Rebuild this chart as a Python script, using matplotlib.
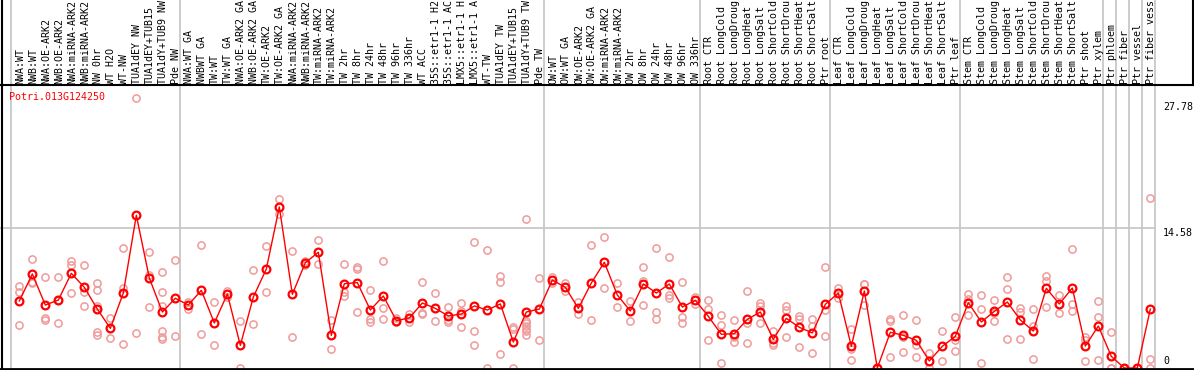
import matplotlib
matplotlib.use("Agg")
import matplotlib.pyplot as plt
from matplotlib.transforms import blended_transform_factory
from matplotlib.lines import Line2D

labels = [
    "NWA:WT", "NWB:WT", "NWA:OE-ARK2", "NWB:OE-ARK2", "NWA:miRNA-ARK2", "NWB:miRNA-ARK2",
    "NW 0hr", "WT H2O", "WT-NW", "TUA1dEY NW", "TUA1dEY+TUB15", "TUA1dY+TUB9 NW", "Pde NW",
    "NWA:WT GA", "NWBWT GA", "TW:WT", "TW:WT GA", "NWA:OE-ARK2 GA", "NWB:OE-ARK2 GA",
    "TW:OE-ARK2", "TW:OE-ARK2 GA", "NWA:miRNA-ARK2", "NWB:miRNA-ARK2", "TW:miRNA-ARK2",
    "TW:miRNA-ARK2", "TW 2hr", "TW 8hr", "TW 24hr", "TW 48hr", "TW 96hr", "TW 336hr",
    "WT ACC", "35S::etr1-1 H2", "35S::etr1-1 AC", "LMX5::etr1-1 H", "LMX5::etr1-1 A",
    "WT-TW", "TUA1dEY TW", "TUA1dEY+TUB15", "TUA1dY+TUB9 TW", "Pde TW",
    "OW:WT", "OW:WT GA", "OW:OE-ARK2", "OW:OE-ARK2 GA", "OW:miRNA-ARK2", "OW:miRNA-ARK2",
    "OW 2hr", "OW 8hr", "OW 24hr", "OW 48hr", "OW 96hr", "OW 336hr",
    "Root CTR", "Root LongCold", "Root LongDroug", "Root LongHeat", "Root LongSalt",
    "Root ShortCold", "Root ShortDrou", "Root ShortHeat", "Root ShortSalt", "Ptr root",
    "Leaf CTR", "Leaf LongCold", "Leaf LongDroug", "Leaf LongHeat", "Leaf LongSalt",
    "Leaf ShortCold", "Leaf ShortDrou", "Leaf ShortHeat", "Leaf ShortSalt", "Ptr leaf",
    "Stem CTR", "Stem LongCold", "Stem LongDroug", "Stem LongHeat", "Stem LongSalt",
    "Stem ShortCold", "Stem ShortDrou", "Stem ShortHeat", "Stem ShortSalt", "Ptr shoot",
    "Ptr xylem", "Ptr phloem", "Ptr fiber", "Ptr vessel", "Ptr fiber vess",
]

means = [6.98, 9.79, 6.56, 7.08, 9.86, 8.40, 6.14, 4.13, 7.81, 15.9,
         9.37, 5.83, 7.26, 6.56, 8.09, 4.69, 7.71, 2.36, 7.39, 10.31,
         16.77, 7.67, 10.97, 12.05, 3.40, 8.78, 8.89, 6.04, 7.50, 4.93,
         5.21, 6.77, 6.21, 5.42, 5.62, 6.46, 6.04, 6.67, 2.71, 5.83,
         6.14, 9.16, 8.40, 6.21, 8.85, 11.01, 7.60, 5.94, 8.75, 7.81,
         8.75, 6.35, 7.05, 5.38, 3.51, 3.58, 5.07, 5.83, 2.99, 5.17,
         4.24, 3.65, 6.63, 7.81, 2.26, 8.02, 0.0, 3.72, 3.40, 2.88,
         0.73, 2.26, 3.30, 6.80, 4.79, 5.90, 6.87, 5.00, 3.85, 8.30,
         6.67, 8.33, 2.29, 4.37, 1.21, 0.0, 0.0, 6.14]

replicates = [
    [8.54, 7.92, 4.44], [11.35, 8.99, 8.82], [9.48, 5.24, 5.00], [9.48, 7.07, 4.69],
    [11.14, 10.76, 7.81], [10.73, 7.95, 6.42], [8.89, 8.12, 6.46, 3.78, 3.44], [5.24, 3.09],
    [12.46, 8.30, 2.47], [28.09, 3.61], [12.05, 9.69, 6.32], [10.0, 7.92, 6.46, 3.85, 3.26, 2.99],
    [11.21, 3.30], [6.87, 6.11], [12.81, 3.51], [6.87, 2.36], [7.98, 7.43], [4.86, 0.0],
    [10.17, 4.55], [12.71, 7.92], [17.6, 16.0], [12.15, 3.23], [11.18, 10.73], [13.33, 10.83],
    [5.00, 1.98], [10.83, 7.92, 7.50], [10.56, 10.28, 5.83], [8.12, 5.07, 4.76],
    [11.14, 6.21, 5.07], [5.21, 4.76], [5.59, 4.76], [8.92, 5.76, 5.59], [7.81, 4.89],
    [6.35, 5.00, 4.82], [6.80, 5.94, 4.24], [13.09, 3.85, 2.36], [12.26, 0.0],
    [9.61, 8.92, 1.43], [4.30, 4.03, 0.0], [15.49, 4.86, 4.65, 4.37, 4.10, 3.90, 3.44],
    [9.34, 2.92], [9.51, 8.89], [8.89, 8.02], [6.87, 5.62], [12.81, 5.00], [13.64, 8.30],
    [8.82, 6.32], [6.94, 4.86], [10.48, 9.06, 6.53], [12.46, 5.80, 5.07], [11.56, 7.60, 7.26],
    [8.92, 5.35, 4.65], [7.43, 6.63], [7.08, 6.18, 2.92], [5.49, 4.44, 0.49], [5.00, 3.26, 2.68],
    [8.02, 4.72, 2.57], [6.74, 6.46, 4.65], [3.88, 2.57, 2.36], [6.46, 6.04, 3.19],
    [5.45, 5.07, 2.19], [5.14, 4.41, 1.53], [10.52, 6.04, 3.30], [8.33, 7.32],
    [4.06, 1.98, 0.80], [8.75, 8.70, 6.56], [0.0, 0.0], [5.07, 4.89, 1.15],
    [5.52, 3.19, 1.67], [5.00, 2.36, 1.15], [1.53, 0.0], [3.85, 0.73], [5.28, 2.92, 1.77],
    [7.71, 7.15, 5.52], [7.60, 6.14, 0.49], [7.08, 5.76, 4.86], [9.48, 8.19, 3.05],
    [6.21, 5.87, 3.05], [6.14, 4.37, 0.94], [9.58, 9.09, 6.32], [7.57, 5.69],
    [12.36, 6.67, 5.90], [3.19, 2.92, 0.73], [6.98, 5.28, 0.80], [3.80, 0.0, 0.0],
    [0.0, 0.0], [0.0, 0.0], [17.67, 0.97, 0.0],
]

group_bounds = [-0.64, 12.36, 40.36, 52.36, 62.36, 72.36, 83.36, 84.36, 85.36, 86.36, 87.36]
ytick_vals = [0, 14.58, 27.78]
ytick_text = ["0", "14.58", "27.78"]
gene = "Potri.013G124250"

W, H = 1194, 370
fig = plt.figure(figsize=(W / 100, H / 100), dpi=100)
ax_left, ax_right, ax_top, ax_bot = 0, 1155, 85, 369
ax = fig.add_axes([ax_left / W, 1 - ax_bot / H, (ax_right - ax_left) / W, (ax_bot - ax_top) / H])
ax.set_xlim(-19.33 / 13, (1155 - 19.33) / 13)
ax.set_ylim(-(369 - 368) / 9.602, (368 - 85) / 9.602)
for s in ax.spines.values():
    s.set_visible(False)
ax.set_xticks([])
ax.set_yticks([])

mono = "DejaVu Sans Mono"
fs = 7.2
grid_c = "#c4c4c4"

# horizontal grid line
ax.axhline(14.58, color=grid_c, lw=1.2, zorder=1)
# vertical group lines spanning full figure height
ax_h = ax_bot - ax_top
for b in group_bounds:
    ax.axvline(b, ymin=-1 / ax_h, ymax=(ax_bot) / ax_h, color=grid_c, lw=1.2,
               clip_on=False, zorder=1)

# replicates
for i, reps in enumerate(replicates):
    ax.plot([i] * len(reps), reps, linestyle="none", marker="o", markersize=5.2,
            markerfacecolor="none", markeredgecolor="#f09a9a", markeredgewidth=1.1,
            clip_on=True, zorder=2)

# mean line
xs = list(range(len(means)))
ax.plot(xs, means, color="#ff0000", lw=1.0, marker="o", markersize=5.6,
        markerfacecolor="none", markeredgecolor="#ff0000", markeredgewidth=1.6, zorder=3)

# labels on top
tr = blended_transform_factory(ax.transData, ax.transAxes)
for i, lab in enumerate(labels):
    ax.text(i + 0.05, (ax_bot - 83.5) / ax_h, lab, transform=tr, rotation=90,
            ha="center", va="bottom", fontsize=fs, family=mono, color="black",
            clip_on=False)

# gene title
ax.text(9 / (ax_right - ax_left), (ax_bot - 97) / ax_h, gene, transform=ax.transAxes,
        ha="left", va="center", fontsize=fs, family=mono, color="#ff0000")

# right-side value labels
tr2 = blended_transform_factory(fig.transFigure, ax.transData)
for v, t in zip(ytick_vals, ytick_text):
    if v == 0:
        ax.text(1163 / W, v + 0.2, t, transform=tr2, ha="left", va="bottom",
                fontsize=fs, family=mono, clip_on=False)
    else:
        ax.text(1163 / W, v - 0.05, t, transform=tr2, ha="left", va="top",
                fontsize=fs, family=mono, clip_on=False)

# frame lines
fig.add_artist(Line2D([0, 1], [1 - 85 / H, 1 - 85 / H], color="black", lw=1.5,
                      transform=fig.transFigure))
fig.add_artist(Line2D([0, 1], [1 - 369 / H, 1 - 369 / H], color="black", lw=2,
                      transform=fig.transFigure))
fig.add_artist(Line2D([1.5 / W, 1.5 / W], [1 - 369 / H, 1], color="black", lw=1.5,
                      transform=fig.transFigure))
fig.add_artist(Line2D([1193 / W, 1193 / W], [1 - 85 / H, 1], color="black", lw=1.5,
                      transform=fig.transFigure))

fig.savefig("out.png", dpi=100)
